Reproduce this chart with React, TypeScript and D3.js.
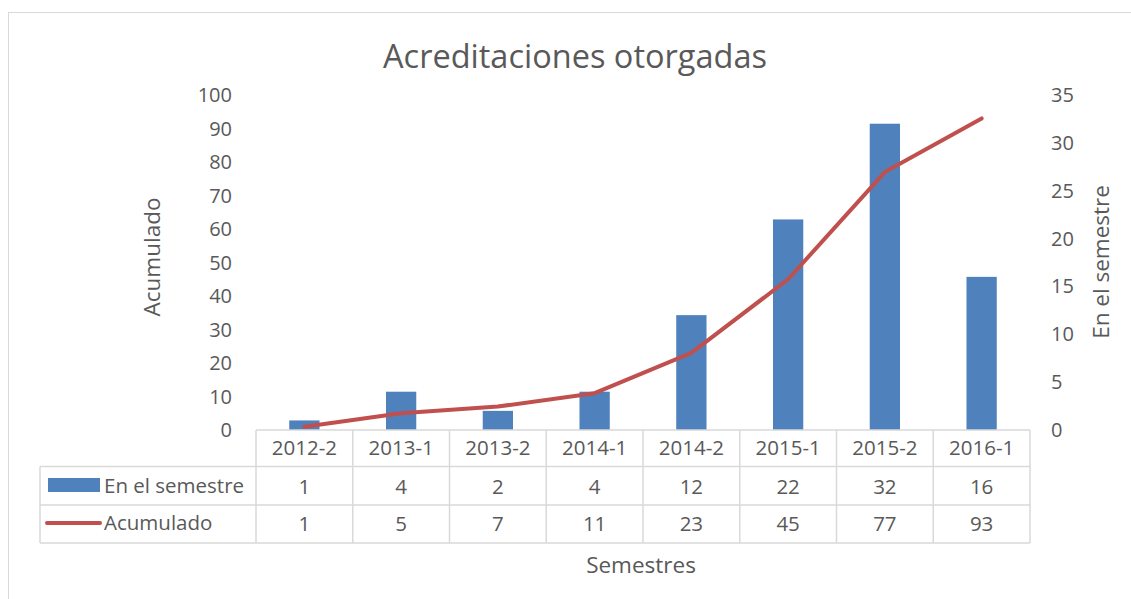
import React from "react";
import * as d3 from "d3";

const categories = ["2012-2", "2013-1", "2013-2", "2014-1", "2014-2", "2015-1", "2015-2", "2016-1"];
const semestre = [1, 4, 2, 4, 12, 22, 32, 16];
const acumulado = [1, 5, 7, 11, 23, 45, 77, 93];
const leftTicks = [0, 10, 20, 30, 40, 50, 60, 70, 80, 90, 100];
const rightTicks = [0, 5, 10, 15, 20, 25, 30, 35];

const W = 1131, H = 599;
const X0 = 256, X1 = 1030, Y0 = 430, Y1 = 95;
const FONT = "'Open Sans', 'Noto Sans', sans-serif";
const TXT = "#595959";
const GRID = "#D9D9D9";

export default function App() {
  const x = d3.scaleBand<string>().domain(categories).range([X0, X1]).paddingInner(0.687).paddingOuter(0.3435);
  const band = d3.scaleBand<string>().domain(categories).range([X0, X1]);
  const yL = d3.scaleLinear().domain([0, 100]).range([Y0, Y1]);
  const yR = d3.scaleLinear().domain([0, 35]).range([Y0, Y1]);
  const line = d3.line<number>()
    .x((_, i) => band(categories[i])! + band.bandwidth() / 2)
    .y((d) => yL(d));
  const rowTops = [430, 466.5, 505, 543];
  const tableLeft = 40;
  return (
    <svg width={W} height={H} style={{ position: "absolute", left: 0, top: 0, background: "#fff" }} fontFamily={FONT}>
      <rect x={8.5} y={12.5} width={W + 10} height={H + 10} fill="#fff" stroke={GRID} strokeWidth={1} />
      <text x={575} y={68} textAnchor="middle" fontSize={32.5} fill={TXT}>Acreditaciones otorgadas</text>
      {leftTicks.map((t) => (
        <text key={"l" + t} x={232} y={yL(t)} dy="0.35em" textAnchor="end" fontSize={20} fill={TXT}>{t}</text>
      ))}
      {rightTicks.map((t) => (
        <text key={"r" + t} x={1051} y={yR(t)} dy="0.35em" textAnchor="start" fontSize={20} fill={TXT}>{t}</text>
      ))}
      <text transform={`translate(160,${257}) rotate(-90)`} textAnchor="middle" fontSize={22.5} fill={TXT}>Acumulado</text>
      <text transform={`translate(1109,${262}) rotate(-90)`} textAnchor="middle" fontSize={22.5} fill={TXT}>En el semestre</text>
      {semestre.map((v, i) => (
        <rect key={"b" + i} x={x(categories[i])} y={yR(v)} width={x.bandwidth()} height={Y0 - yR(v)} fill="#4F81BD" />
      ))}
      <path d={line(acumulado) || ""} fill="none" stroke="#C0504D" strokeWidth={4} strokeLinejoin="round" strokeLinecap="round" />
      <g stroke={GRID} strokeWidth={1.5} fill="none">
        <line x1={X0} x2={X1} y1={rowTops[0]} y2={rowTops[0]} />
        <line x1={tableLeft} x2={X1} y1={rowTops[1]} y2={rowTops[1]} />
        <line x1={tableLeft} x2={X1} y1={rowTops[2]} y2={rowTops[2]} />
        <line x1={tableLeft} x2={X1} y1={rowTops[3]} y2={rowTops[3]} />
        <line x1={tableLeft} x2={tableLeft} y1={rowTops[1]} y2={rowTops[3]} />
        {categories.map((c) => (
          <line key={"v" + c} x1={band(c)!} x2={band(c)!} y1={rowTops[0]} y2={rowTops[3]} />
        ))}
        <line x1={X1} x2={X1} y1={rowTops[0]} y2={rowTops[3]} />
      </g>
      {categories.map((c, i) => (
        <g key={"t" + c} fontSize={20.5} fill={TXT} textAnchor="middle">
          <text x={band(c)! + band.bandwidth() / 2} y={(rowTops[0] + rowTops[1]) / 2} dy="0.35em">{c}</text>
          <text x={band(c)! + band.bandwidth() / 2} y={(rowTops[1] + rowTops[2]) / 2 + 1} dy="0.35em">{semestre[i]}</text>
          <text x={band(c)! + band.bandwidth() / 2} y={(rowTops[2] + rowTops[3]) / 2} dy="0.35em">{acumulado[i]}</text>
        </g>
      ))}
      <rect x={48} y={478} width={52} height={14} fill="#4F81BD" />
      <text x={104} y={486} dy="0.35em" fontSize={20.5} fill={TXT}>En el semestre</text>
      <line x1={47} x2={100} y1={523} y2={523} stroke="#C0504D" strokeWidth={4} strokeLinecap="round" />
      <text x={104} y={523} dy="0.35em" fontSize={20.5} fill={TXT}>Acumulado</text>
      <text x={641} y={565} dy="0.35em" textAnchor="middle" fontSize={22.5} fill={TXT}>Semestres</text>
    </svg>
  );
}
